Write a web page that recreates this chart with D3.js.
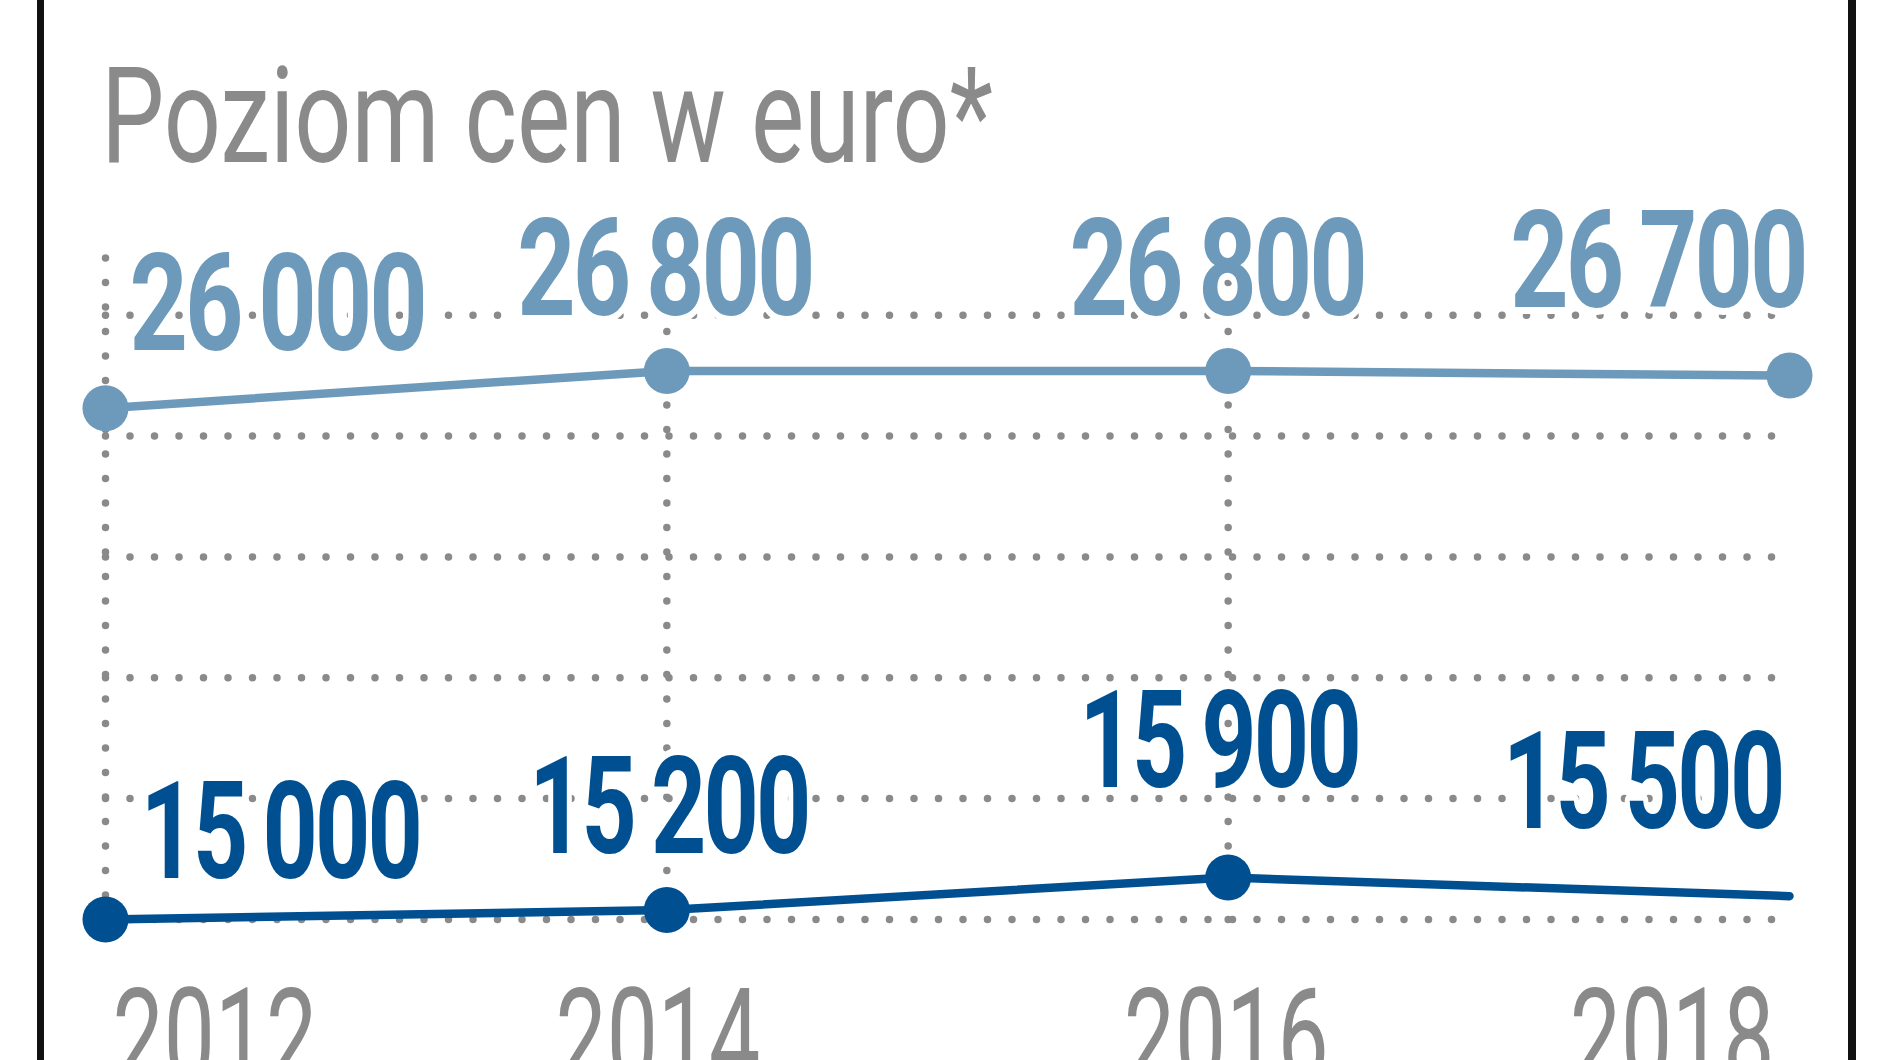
<!DOCTYPE html>
<html>
<head>
<meta charset="utf-8">
<script src="https://cdn.jsdelivr.net/npm/d3@7"></script>
<style>
  html, body { margin: 0; padding: 0; background: #fff; overflow: hidden; }
  svg { display: block; }
</style>
</head>
<body>
<div id="chart"></div>
<script>
// Data
const years = [2012, 2014, 2016, 2018];
const upperValues = [26000, 26800, 26800, 26700];
const lowerValues = [15000, 15200, 15900, 15500];
const gridValues = [15000, 17600, 20200, 22800, 25400, 28000];
const gridYears = [2012, 2014, 2016];
const title = "Poziom cen w euro*";

const lightblue = "#6d9aba";
const darkblue = "#005091";
const gray = "#8a8a8a";

// Hand placed label nudges (px), same as in the print version
const upperDx = [24, -2, -11, 16];
const upperDy = [-58, -56, -56, -69];
const lowerDx = [35, 2, -9, -7];
const lowerDy = [-41, -57, -91, -68];
const yearDx = [7, -9, -2, -15];
const anchors = ["start", "middle", "middle", "end"];

const width = 1880, height = 1060;

const svg = d3.select("#chart").append("svg")
    .attr("width", width).attr("height", height);

const x = d3.scaleLinear().domain([2012, 2018]).range([105.5, 1789.5]);
const y = d3.scaleLinear().domain([15000, 28000]).range([919.4, 315.2]);

// thousands split by a thin space, like the tight gap in the print
const fmt = d3.formatLocale({ decimal: ",", thousands: "\u2009", grouping: [3], currency: ["", " €"] }).format(",d");

// Frame (left and right rules)
svg.append("line").attr("x1", 40.5).attr("x2", 40.5).attr("y1", 0).attr("y2", height)
    .attr("stroke", "#111").attr("stroke-width", 7);
svg.append("line").attr("x1", 1852).attr("x2", 1852).attr("y1", 0).attr("y2", height)
    .attr("stroke", "#111").attr("stroke-width", 8);

// Title
svg.append("text")
    .attr("x", 101).attr("y", 162)
    .attr("font-family", "Roboto, 'Open Sans', sans-serif").attr("font-size", 134)
    .attr("fill", gray)
    .attr("textLength", 892).attr("lengthAdjust", "spacingAndGlyphs")
    .text(title);

// Dotted grid
const grid = svg.append("g")
    .attr("stroke", gray).attr("stroke-width", 7.5)
    .attr("stroke-linecap", "round").attr("stroke-dasharray", "0 24.5");

grid.selectAll("line.h").data(gridValues).enter().append("line").attr("class", "h")
    .attr("x1", x(2012)).attr("x2", x(2018) + 4)
    .attr("y1", d => y(d)).attr("y2", d => y(d));

grid.selectAll("line.v").data(gridYears).enter().append("line").attr("class", "v")
    .attr("x1", d => x(d)).attr("x2", d => x(d))
    .attr("y1", y(15000)).attr("y2", y(15000) - 27 * 24.5);

// Series
const line = d3.line().x((d, i) => x(years[i])).y(d => y(d));

const series = [
    { values: upperValues, color: lightblue, markers: years.length, dx: upperDx, dy: upperDy, sx: 0.75 },
    // the lower series has no dot on its last point
    { values: lowerValues, color: darkblue, markers: years.length - 1, dx: lowerDx, dy: lowerDy, sx: 0.71 }
];

series.forEach(s => {
    svg.append("path").datum(s.values)
        .attr("d", line)
        .attr("fill", "none").attr("stroke", s.color)
        .attr("stroke-width", 8.5).attr("stroke-linecap", "round").attr("stroke-linejoin", "round");

    svg.append("g").selectAll("circle").data(s.values.slice(0, s.markers)).enter().append("circle")
        .attr("cx", (d, i) => x(years[i])).attr("cy", d => y(d))
        .attr("r", 23).attr("fill", s.color);
});

series.forEach(s => {
    svg.append("g").selectAll("g").data(s.values).enter().append("g")
        .attr("transform", (d, i) => "translate(" + (x(years[i]) + s.dx[i]) + "," + (y(d) + s.dy[i]) + ")")
        .append("text")
        .attr("transform", "scale(" + s.sx + ",1)")
        .attr("text-anchor", (d, i) => anchors[i])
        .attr("font-family", "Roboto, 'Open Sans', sans-serif").attr("font-weight", 700)
        .attr("font-size", 136).attr("letter-spacing", -4)
        .attr("fill", s.color)
        .attr("stroke", "#fff").attr("stroke-width", 14).attr("stroke-linejoin", "round")
        .attr("paint-order", "stroke")
        .text(d => fmt(d));
});

// Year labels (cut by the bottom edge, as in the source)
svg.append("g").selectAll("g").data(years).enter().append("g")
    .attr("transform", (d, i) => "translate(" + (x(d) + yearDx[i]) + ",1083)")
    .append("text")
    .attr("transform", "scale(0.68,1)")
    .attr("text-anchor", (d, i) => anchors[i])
    .attr("font-family", "Roboto, 'Open Sans', sans-serif").attr("font-size", 134)
    .attr("fill", gray)
    .text(d => d);
</script>
</body>
</html>
